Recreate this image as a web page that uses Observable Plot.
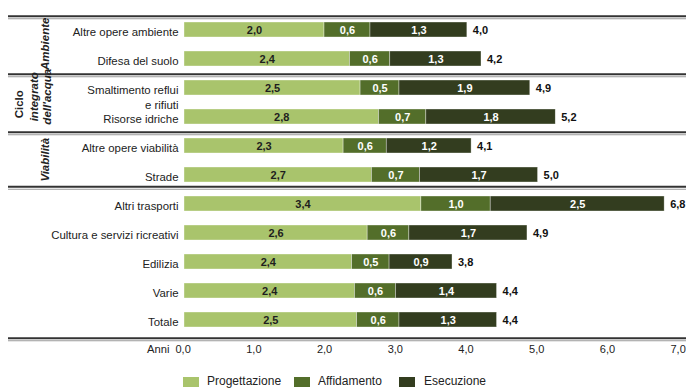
<!DOCTYPE html>
<html><head><meta charset="utf-8">
<script src="https://cdn.jsdelivr.net/npm/d3@7"></script>
<script src="https://cdn.jsdelivr.net/npm/@observablehq/plot@0.6"></script>
<style>
body{margin:0;background:#fff;font-family:"Liberation Sans",Arial,sans-serif;}
#wrap{position:relative;width:686px;height:388px;overflow:hidden;background:#fff;}
#wrap svg{position:absolute;left:0;top:0;overflow:visible;}
.sw{position:absolute;width:16px;height:10px;top:377px;}
.lt{position:absolute;top:374px;font-size:12px;color:#222;line-height:14px;white-space:nowrap;}
</style></head><body><div id="wrap"></div>
<script>
const categories = ["Altre opere ambiente","Difesa del suolo","Smaltimento reflui\ne rifiuti","Risorse idriche","Altre opere viabilità","Strade","Altri trasporti","Cultura e servizi ricreativi","Edilizia","Varie","Totale"];
// bar lengths (years)
const progettazione = [1.98,2.34,2.49,2.75,2.25,2.65,3.35,2.59,2.37,2.41,2.44];
const affidamento   = [0.65,0.57,0.55,0.67,0.61,0.68,0.98,0.59,0.53,0.58,0.60];
const esecuzione    = [1.37,1.29,1.85,1.83,1.20,1.67,2.46,1.67,0.89,1.43,1.38];
// values printed in the chart
const progLabels  = [2.0,2.4,2.5,2.8,2.3,2.7,3.4,2.6,2.4,2.4,2.5];
const affidLabels = [0.6,0.6,0.5,0.7,0.6,0.7,1.0,0.6,0.5,0.6,0.6];
const esecLabels  = [1.3,1.3,1.9,1.8,1.2,1.7,2.5,1.7,0.9,1.4,1.3];
const totali      = [4.0,4.2,4.9,5.2,4.1,5.0,6.8,4.9,3.8,4.4,4.4];
const series = ["Progettazione","Affidamento","Esecuzione"];
const colors = ["#a9c46c","#536e2a","#333d1f"];
const xTicks = [0,1,2,3,4,5,6,7];
const groupLabels = [
  {first:"Altre opere ambiente", label:"Ambiente"},
  {first:"Altre opere viabilità", label:"Viabilità"}
];
const cicloFirst = "Smaltimento reflui\ne rifiuti";
const sepA = ["Altre opere ambiente","Smaltimento reflui\ne rifiuti","Altre opere viabilità"];
const sepB = ["Altri trasporti"];
const sepC = ["Totale"];

const fmt = v => v.toFixed(1).replace(".", ",");
const vals = [progettazione, affidamento, esecuzione];
const labs = [progLabels, affidLabels, esecLabels];
const long = categories.flatMap((c,i) => series.map((s,k) => ({cat:c, s, v:vals[k][i], l:labs[k][i]})));
const rows = categories.map((c,i) => ({cat:c, sum:progettazione[i]+affidamento[i]+esecuzione[i], t:totali[i]}));

const half = 14.75;
const sepMarks = (data, dy) => [
  Plot.ruleY(data, {y:d=>d, dy:dy, stroke:"#333", strokeWidth:1.8, insetLeft:-176, insetRight:-7}),
  Plot.ruleY(data, {y:d=>d, dy:dy+2.5, stroke:"#9a9a9a", strokeWidth:1, insetLeft:-176, insetRight:-7})
];

const chart = Plot.plot({
  width:686, height:362, marginLeft:184, marginRight:7, marginTop:5, marginBottom:20,
  style:{fontFamily:'"Liberation Sans", Arial, sans-serif', fontSize:"11px", color:"#222", background:"transparent", overflow:"visible"},
  x:{domain:[0,7], axis:null},
  y:{domain:categories, range:[5,344], padding:0.5, axis:null},
  color:{domain:series, range:colors},
  marks:[
    ...sepMarks(sepA, -half+1),
    ...sepMarks(sepB, -half-2.5),
    ...sepMarks(sepC, half+3.5),
    Plot.barX(long, Plot.stackX({x:"v", y:"cat", fill:"s", stroke:"#fff", strokeWidth:0.6, strokeOpacity:0.6})),
    Plot.text(long, Plot.stackX({x:"v", y:"cat", text:d=>d.s===series[0]?fmt(d.l):null, fill:"#1e1e1e", fontWeight:"bold", fontSize:11})),
    Plot.text(long, Plot.stackX({x:"v", y:"cat", text:d=>d.s!==series[0]?fmt(d.l):null, fill:"#fff", fontWeight:"bold", fontSize:11})),
    Plot.text(rows, {x:"sum", y:"cat", text:d=>fmt(d.t), dx:5.5, textAnchor:"start", fontWeight:"bold", fill:"#111", fontSize:11}),
    Plot.text(categories, {y:d=>d, text:d=>d, frameAnchor:"left", dx:-6, dy:-4.5, textAnchor:"end", lineAnchor:"top", lineHeight:1.3, fill:"#222", fontSize:11.4}),
    Plot.text(xTicks, {x:d=>d, text:fmt, frameAnchor:"bottom", dy:3, dx:-9, lineAnchor:"top", textAnchor:"start", fill:"#222", fontSize:11}),
    Plot.text(["Anni"], {text:d=>d, frameAnchor:"bottom-left", dx:-15, dy:3, lineAnchor:"top", textAnchor:"end", fill:"#222", fontSize:11.2}),
    Plot.text(groupLabels, {y:"first", text:"label", frameAnchor:"left", dx:-139, dy:half-1, rotate:-90, textAnchor:"middle", lineAnchor:"middle", fontWeight:"bold", fontStyle:"italic", fill:"#222", fontSize:11.5}),
    Plot.text([cicloFirst], {y:d=>d, text:()=>"Ciclo", frameAnchor:"left", dx:-165.5, dy:half+1.5, rotate:-90, textAnchor:"middle", lineAnchor:"middle", fontWeight:"bold", fill:"#222", fontSize:11.5}),
    Plot.text([cicloFirst], {y:d=>d, text:()=>"integrato\ndell'acqua", frameAnchor:"left", dx:-144.5, dy:half-6, rotate:-90, textAnchor:"middle", lineAnchor:"middle", lineHeight:1.12, fontWeight:"bold", fontStyle:"italic", fill:"#222", fontSize:11.5})
  ]
});
const wrap = document.getElementById("wrap");
wrap.appendChild(chart);
const swX = [183, 294, 399];
const txX = [207, 318, 424];
series.forEach((s,k) => {
  const sw = document.createElement("div");
  sw.className = "sw"; sw.style.left = swX[k]+"px"; sw.style.background = colors[k];
  const t = document.createElement("div");
  t.className = "lt"; t.style.left = txX[k]+"px"; t.textContent = s;
  wrap.appendChild(sw); wrap.appendChild(t);
});
</script>
</body></html>
